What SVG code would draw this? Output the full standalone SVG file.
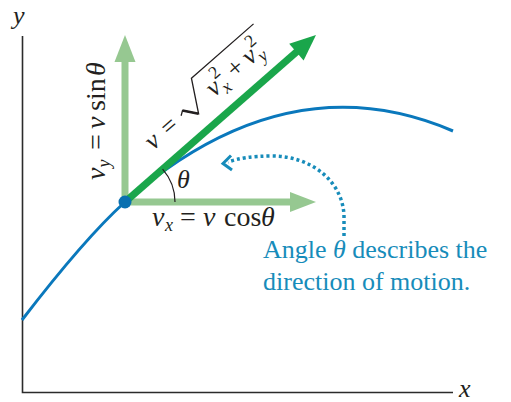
<svg xmlns="http://www.w3.org/2000/svg" width="511" height="402" viewBox="0 0 511 402">
<style>
.t{font-family:"Liberation Serif","Times New Roman",serif;font-size:26px;fill:#231f20}
.m{font-size:28px}
.i{font-style:italic}
.s{font-size:18px}
.b{fill:#178cba}
.ax{stroke:#2b2b2b;stroke-width:1.6;fill:none}
.lg{fill:#96c891}
.dg{fill:#1aa64b}
</style>
<rect width="511" height="402" fill="#ffffff"/>
<g id="axes">
  <polyline class="ax" points="22.5,36 22.5,392.5 453,392.5"/>
  <text class="t i" x="13" y="24" font-size="25">y</text>
  <text class="t i" x="459" y="397" font-size="24">x</text>
</g>
<g id="vy-component">
  <rect class="lg" x="121.5" y="60" width="7" height="142"/>
  <polygon class="lg" points="114.5,62 135.5,62 125,35"/>
</g>
<g id="vx-component">
  <rect class="lg" x="125" y="198.5" width="166" height="7"/>
  <polygon class="lg" points="290,192 290,212 316,202"/>
</g>
<g id="trajectory">
  <path d="M22,320 Q85,238 125,202 Q287,60 453,131" fill="none" stroke="#0a78bc" stroke-width="3"/>
</g>
<g id="velocity">
  <line x1="125" y1="202" x2="297" y2="51.5" stroke="#1aa64b" stroke-width="7"/>
  <polygon class="dg" points="316,35 289.2,43.8 303.6,60.4"/>
</g>
<g id="point">
  <circle cx="125" cy="202" r="6.5" fill="#0a70b0"/>
</g>
<g id="angle">
  <path d="M175,202 A50,50 0 0 0 162.6,169.1" fill="none" stroke="#231f20" stroke-width="1.2"/>
  <text class="t i" x="177" y="188" font-size="25">θ</text>
</g>
<g id="labels">
  <text class="t m" y="226"><tspan class="i" x="152">v</tspan><tspan class="i s" x="165" y="231">x</tspan><tspan x="180" y="226">=</tspan><tspan class="i" x="203">v</tspan><tspan x="224">cos</tspan><tspan class="i" x="261">θ</tspan></text>
  <text class="t m" transform="translate(105,180) rotate(-90)"><tspan class="i" x="0" y="0">v</tspan><tspan class="i s" x="12.5" y="5">y</tspan><tspan x="30" y="0">=</tspan><tspan class="i" x="51">v</tspan><tspan x="69">sin</tspan><tspan class="i" x="104">θ</tspan></text>
  <g transform="translate(125,202) rotate(-41.16)">
    <text class="t" font-size="27"><tspan class="i" x="55" y="-20">v</tspan><tspan x="76" y="-20">=</tspan><tspan class="i" x="136" y="-20">v</tspan><tspan class="i s" x="148" y="-14">x</tspan><tspan class="s" x="148" y="-33">2</tspan><tspan x="164" y="-20">+</tspan><tspan class="i" x="184" y="-20">v</tspan><tspan class="i s" x="196" y="-14">y</tspan><tspan class="s" x="196" y="-33">2</tspan></text>
    <polyline points="99,-28 103.5,-31 113.5,-18 131.5,-49.5 214,-49.5" fill="none" stroke="#231f20" stroke-width="1.3" stroke-linejoin="miter"/>
    <line x1="103.5" y1="-31" x2="113.5" y2="-18" stroke="#231f20" stroke-width="2.6"/>
  </g>
</g>
<g id="connectors">
  <path d="M344,236 L344,216 C343,182 312,156 272,156 C252,156 240,158 228,162" fill="none" stroke="#178cba" stroke-width="3.5" stroke-dasharray="3 3"/>
  <polyline points="231,155.5 223,163.5 232,170" fill="none" stroke="#178cba" stroke-width="3"/>
</g>
<g id="note">
  <text class="t b" x="263" y="258">Angle <tspan class="i">θ</tspan> describes the</text>
  <text class="t b" x="263" y="290">direction of motion.</text>
</g>
</svg>
